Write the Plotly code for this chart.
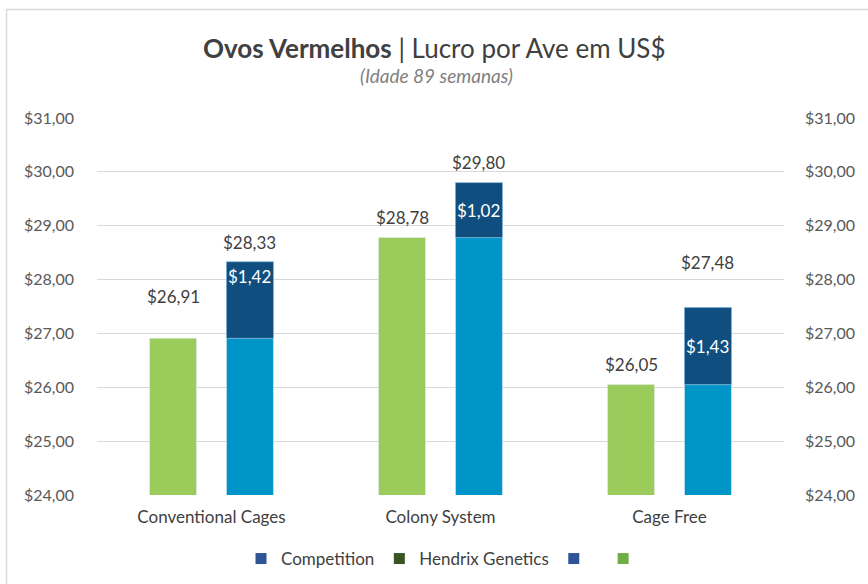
import plotly.graph_objects as go

categories = ["Conventional Cages", "Colony System", "Cage Free"]
hendrix_values = [26.91, 28.78, 26.05]
competition_base = [26.91, 28.78, 26.05]
competition_diff = [1.42, 1.02, 1.43]
competition_total = [28.33, 29.80, 27.48]
tick_values = [24, 25, 26, 27, 28, 29, 30, 31]
tick_labels = ["$24,00", "$25,00", "$26,00", "$27,00", "$28,00", "$29,00", "$30,00", "$31,00"]

FONT = "Lato"
GREEN = "#9BCB5A"
BLUE = "#0095C8"
NAVY = "#114E80"

def brl(v):
    return "$" + f"{v:.2f}".replace(".", ",")

xpos = list(range(len(categories)))
off = 0.168
w = 0.205
xg = [x - off for x in xpos]
xb = [x + off for x in xpos]

fig = go.Figure()
fig.add_trace(go.Bar(x=xg, y=hendrix_values, width=w, marker_color=GREEN, showlegend=False, hoverinfo="skip"))
fig.add_trace(go.Bar(x=xb, y=competition_base, width=w, marker_color=BLUE, showlegend=False, hoverinfo="skip"))
fig.add_trace(go.Bar(x=xb, y=competition_diff, base=competition_base, width=w, marker_color=NAVY,
                     marker_line=dict(color="#6FAFD6", width=0.6), showlegend=False, hoverinfo="skip"))

# legend-only entries
for name, col in [("Competition", "#2F5597"), ("Hendrix Genetics", "#375623"), (" ", "#2F5597"), (" ", "#70AD47")]:
    fig.add_trace(go.Scatter(x=[None], y=[None], mode="markers", name=name,
                             marker=dict(symbol="square", size=11, color=col)))

fig.update_layout(barmode="overlay")

# labels
green_shift = [42, 20, 20]
total_shift = [19, 20, 45]
inner_shift = [24, 0, 0]
for i in range(len(categories)):
    fig.add_annotation(x=xg[i], y=hendrix_values[i], text=brl(hendrix_values[i]), showarrow=False,
                       yshift=green_shift[i], font=dict(family=FONT, size=17, color="#404040"))
    fig.add_annotation(x=xb[i], y=competition_total[i], text=brl(competition_total[i]), showarrow=False,
                       yshift=total_shift[i], font=dict(family=FONT, size=17, color="#404040"))
    fig.add_annotation(x=xb[i], y=competition_base[i] + competition_diff[i] / 2, text=brl(competition_diff[i]),
                       showarrow=False, yshift=inner_shift[i], font=dict(family=FONT, size=17, color="white"))

# dummy trace for right axis
fig.add_trace(go.Scatter(x=[None], y=[None], yaxis="y2", showlegend=False))

L, R, T, B = 97, 84, 118, 89
W, H = 868, 584
pw = W - L - R
ph = H - T - B

def px_x(px):
    return (px - L) / pw

def px_y(py):
    return (H - B - py) / ph

fig.add_annotation(xref="paper", yref="paper", x=px_x(434), y=px_y(48),
                   text="<b>Ovos Vermelhos</b> | Lucro por Ave em US$", showarrow=False,
                   xanchor="center", yanchor="middle",
                   font=dict(family=FONT, size=26, color="#404040"))
fig.add_annotation(xref="paper", yref="paper", x=px_x(436), y=px_y(75),
                   text="<i>(Idade 89 semanas)</i>", showarrow=False,
                   xanchor="center", yanchor="middle",
                   font=dict(family=FONT, size=19, color="#808080"))

# outer border (top and left)
fig.add_shape(type="line", xref="paper", yref="paper", x0=px_x(6), x1=px_x(868), y0=px_y(9.5), y1=px_y(9.5),
              line=dict(color="#D9D9D9", width=1.5))
fig.add_shape(type="line", xref="paper", yref="paper", x0=px_x(6.5), x1=px_x(6.5), y0=px_y(9.5), y1=px_y(584),
              line=dict(color="#D9D9D9", width=1.5))

axis_font = dict(family=FONT, size=16, color="#595959")
fig.update_layout(
    width=W, height=H,
    margin=dict(l=L, r=R, t=T, b=B, autoexpand=False),
    paper_bgcolor="white", plot_bgcolor="white",
    font=dict(family=FONT),
    xaxis=dict(range=[-0.5, 2.5], tickvals=xpos, ticktext=categories, showgrid=False,
               zeroline=False, showline=False, ticks="", ticklabelstandoff=10, automargin=False,
               tickfont=dict(family=FONT, size=17, color="#404040")),
    yaxis=dict(range=[24, 31], tickvals=tick_values, ticktext=tick_labels, showgrid=True,
               gridcolor="#D9D9D9", gridwidth=1, zeroline=False, showline=False, ticks="",
               ticklabelstandoff=22, automargin=False, tickfont=axis_font),
    yaxis2=dict(range=[24, 31], tickvals=tick_values, ticktext=tick_labels, overlaying="y", side="right",
                showgrid=False, zeroline=False, showline=False, ticks="", ticklabelstandoff=20,
                automargin=False, tickfont=axis_font),
    legend=dict(orientation="h", x=px_x(447), xanchor="center", y=px_y(559), yanchor="middle",
                font=dict(family=FONT, size=17, color="#404040"), itemwidth=30, tracegroupgap=0),
)

fig.write_html("out.html", config={"displayModeBar": False},
               post_script="document.body.style.margin='0';document.body.style.overflow='hidden';")
